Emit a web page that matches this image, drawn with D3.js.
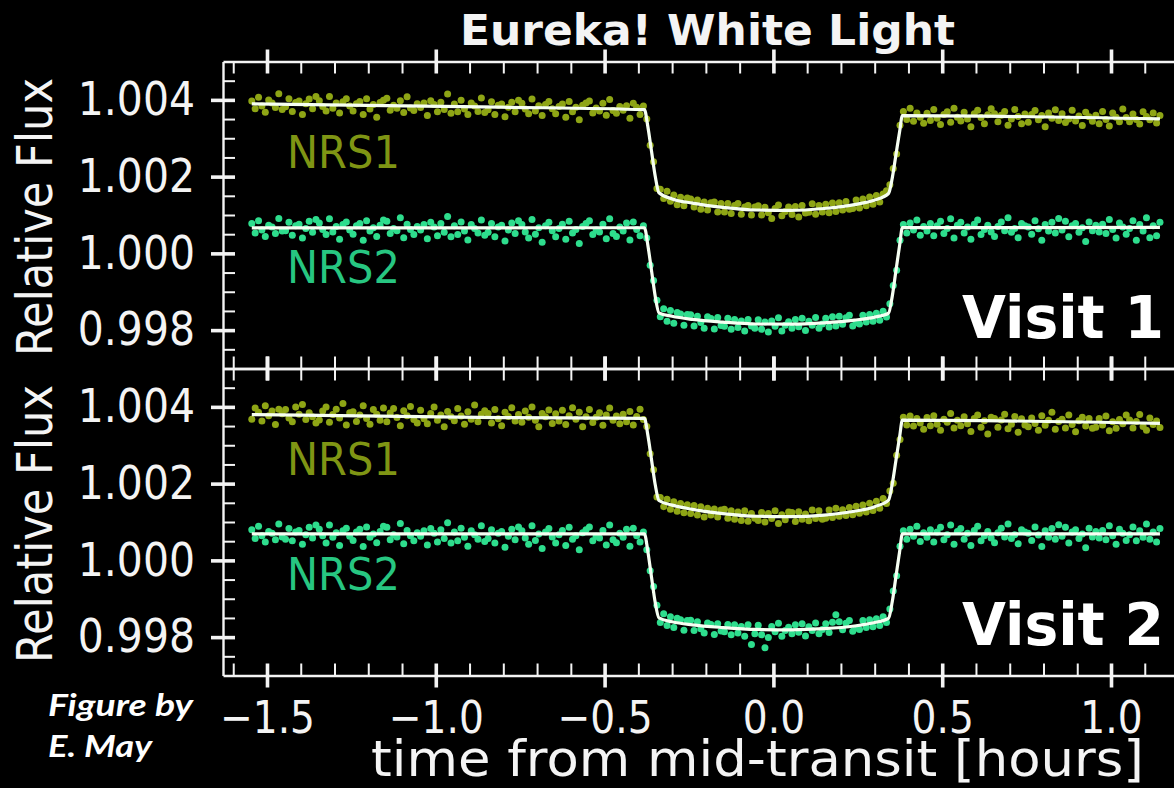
<!DOCTYPE html>
<html>
<head>
<meta charset="utf-8">
<script src="https://cdn.jsdelivr.net/npm/d3@7"></script>
<style>
  html, body { margin: 0; padding: 0; background: #000; }
  svg { display: block; }
</style>
</head>
<body>
<svg id="chart" width="1174" height="788"></svg>
<script>
// ---------------------------------------------------------------
// Eureka! white-light curves, NIRSpec NRS1 / NRS2, two visits
// ---------------------------------------------------------------

// Observation grid: hours from mid-transit, one integration every 0.01 h
const cadenceStart = -1.545;
const cadenceStep = 0.01;
const cadenceCount = 270;
const times = d3.range(cadenceCount).map(i => +(cadenceStart + i * cadenceStep).toFixed(3));

// Flux values are stored as (relative flux - 1) in units of 1e-5
const fluxUnit = 1e-5;

const visit1NRS1 = [
  397,377,407,384,368,400,392,380,416,375,
  382,403,370,393,397,362,390,402,377,409,
  398,383,371,409,378,392,366,395,403,384,
  371,390,396,362,403,376,388,355,393,399,
  404,373,386,378,398,367,408,379,372,390,
  380,392,359,398,388,369,394,375,415,365,
  389,369,399,376,362,392,384,370,405,367,
  374,395,362,386,389,356,381,394,369,399,
  391,376,364,402,371,385,359,388,396,377,
  364,383,389,355,396,369,381,348,386,392,
  397,366,379,371,391,360,401,372,365,383,
  373,385,352,391,381,362,384,350,282,239,
  169,167,143,162,136,152,127,146,124,144,
  142,121,139,115,134,113,132,134,108,130,
  108,130,104,125,130,102,121,125,100,121,
  124,100,120,106,91,117,126,98,109,121,
  101,122,95,125,105,107,129,102,125,108,
  128,106,131,109,132,113,135,115,117,139,
  118,142,124,147,128,151,134,155,163,179,
  221,259,334,370,349,378,344,366,355,339,
  365,346,375,352,336,362,369,342,378,355,
  345,368,350,330,364,373,354,338,361,377,
  364,343,360,370,334,350,375,357,338,363,
  342,362,372,348,359,330,366,352,374,346,
  364,341,350,373,345,358,333,368,356,344,
  360,338,370,349,332,366,355,343,376,354,
  343,363,349,337,369,357,348,366,340,359
];

const visit1NRS2 = [
  78,53,85,61,44,73,69,52,91,58,
  59,81,47,72,76,40,65,84,55,88,
  79,62,49,90,56,70,37,75,82,61,
  50,72,78,34,85,58,67,44,73,87,
  84,52,65,59,93,41,76,62,49,70,
  61,75,38,81,69,46,78,55,96,43,
  72,49,82,58,35,75,65,53,87,47,
  55,78,43,69,73,32,61,79,52,85,
  75,56,40,88,50,67,29,72,81,59,
  43,65,76,37,84,53,62,26,70,78,
  85,49,61,56,76,38,90,52,44,69,
  58,79,35,82,62,46,72,40,-31,-71,
  -122,-165,-144,-177,-149,-182,-154,-158,-187,-159,
  -160,-189,-164,-180,-195,-165,-170,-197,-167,-188,
  -190,-169,-198,-172,-193,-176,-202,-172,-189,-195,
  -173,-198,-179,-205,-176,-190,-168,-202,-187,-178,
  -195,-172,-191,-169,-201,-177,-187,-167,-195,-184,
  -169,-192,-165,-189,-164,-185,-168,-161,-189,-180,
  -184,-161,-179,-159,-177,-156,-174,-151,-166,-131,
  -84,-44,34,75,53,79,61,87,47,70,
  58,78,46,72,84,52,65,90,40,73,
  81,53,69,37,76,87,49,62,73,56,
  44,70,82,59,93,55,65,41,78,72,
  69,50,85,64,34,75,58,81,53,91,
  61,84,43,72,78,55,67,31,82,59,
  73,56,76,52,88,62,40,79,69,50,
  65,85,34,75,58,93,41,72,46,81
];

const visit2NRS1 = [
  368,397,386,363,403,377,389,354,394,382,
  393,371,361,400,381,406,367,385,374,358,
  366,389,400,360,380,394,371,409,353,385,
  387,362,379,403,370,355,393,381,365,397,
  361,384,396,372,351,390,377,401,367,358,
  391,369,356,383,400,365,379,348,388,374,
  364,396,376,355,387,368,405,361,381,390,
  383,358,393,369,351,386,375,398,363,380,
  360,389,373,400,365,348,383,374,392,357,
  382,363,391,354,377,398,368,386,348,374,
  393,359,373,385,352,379,397,365,376,356,
  381,361,388,353,375,394,367,349,278,236,
  165,164,140,159,133,153,128,148,124,145,
  122,143,118,140,113,136,118,134,113,131,
  133,110,129,107,126,104,129,102,122,110,
  104,125,100,122,109,129,96,119,106,126,
  125,101,127,107,121,103,131,109,129,107,
  110,131,112,136,115,132,117,138,119,141,
  123,144,126,149,130,154,136,161,148,181,
  201,274,315,373,353,376,350,370,358,342,
  372,351,377,355,339,368,360,383,345,365,
  351,374,356,336,370,379,347,364,329,373,
  370,347,366,381,343,355,375,334,369,353,
  348,371,357,339,377,352,365,386,342,362,
  368,345,379,354,335,364,373,350,370,344,
  347,370,353,376,338,361,344,367,356,379,
  366,345,362,380,349,339,371,354,363,346
];

const visit2NRS2 = [
  80,57,89,64,48,75,71,54,95,61,
  55,83,51,74,78,42,67,86,58,92,
  81,64,45,92,60,72,39,77,84,63,
  52,74,81,36,87,60,69,46,75,89,
  86,54,67,61,96,43,78,64,51,72,
  63,77,40,83,71,48,80,57,98,45,
  74,51,84,60,37,77,67,55,90,49,
  57,80,45,71,75,34,63,81,54,87,
  77,58,42,90,52,69,31,74,83,61,
  45,67,78,39,86,55,64,28,72,80,
  87,51,63,58,78,40,92,54,46,71,
  60,81,37,84,64,48,74,28,-27,-68,
  -117,-162,-139,-170,-147,-175,-151,-155,-182,-157,
  -156,-183,-160,-178,-189,-163,-167,-193,-165,-184,
  -186,-167,-194,-168,-189,-172,-198,-168,-219,-191,
  -169,-194,-228,-201,-172,-186,-164,-198,-183,-174,
  -191,-168,-187,-165,-197,-173,-183,-163,-191,-180,
  -165,-188,-161,-142,-160,-181,-164,-157,-185,-176,
  -180,-157,-175,-155,-173,-152,-170,-147,-162,-127,
  -80,-40,37,77,55,81,63,89,49,72,
  60,80,48,74,86,54,67,92,42,75,
  83,55,71,39,78,89,51,64,75,58,
  46,72,84,61,95,57,67,43,80,74,
  71,52,87,66,36,77,60,83,55,93,
  63,86,45,74,80,57,69,33,84,61,
  75,58,78,54,90,64,42,81,71,52,
  67,87,51,77,60,95,55,74,48,83
];

// Best-fit transit models, sampled at knots (same 1e-5 units)
const modelTimes = [-1.545, -0.81, -0.382, -0.372, -0.361, -0.350, -0.339, -0.30, -0.24, -0.15, -0.05,
                    0.05, 0.15, 0.24, 0.30, 0.341, 0.352, 0.363, 0.374, 0.382, 1.145];
const visit1NRS1Model = [389.5, 381, 374.5, 331, 266, 201, 158, 142, 131, 120, 113,
                         112, 117, 127, 139, 156, 196, 257, 318, 359, 350.5];
const visit1NRS2Model = [66.5, 66.7, 66.8, 22, -45, -112, -155, -164, -172, -179, -184,
                         -184.5, -181, -174, -166, -156, -112, -45, 22, 67, 67.5];
const visit2NRS1Model = [380, 372, 370, 327, 262, 197, 156, 144, 133, 122, 115,
                         114, 118, 128, 140, 157, 199, 261, 323, 365.5, 357];
const visit2NRS2Model = [69, 69, 69, 24, -44, -110, -150, -160, -168, -175, -180,
                         -181, -178, -171, -162, -151, -108, -42, 24, 69, 69];

// Axis ticks
const xMajorTicks = [-1.5, -1.0, -0.5, 0.0, 0.5, 1.0];
const xTickLabels = ["\u22121.5", "\u22121.0", "\u22120.5", "0.0", "0.5", "1.0"];
const xMinorTicks = [-1.6, -1.4, -1.3, -1.2, -1.1, -0.9, -0.8, -0.7, -0.6, -0.4, -0.3, -0.2, -0.1,
                     0.1, 0.2, 0.3, 0.4, 0.6, 0.7, 0.8, 0.9, 1.1, 1.2];
const yMajorTicks = [0.998, 1.000, 1.002, 1.004];
const yTickLabels = ["0.998", "1.000", "1.002", "1.004"];
const yMinorTicks = [0.9975, 0.9985, 0.999, 0.9995, 1.0005, 1.001, 1.0015, 1.0025, 1.003, 1.0035, 1.0045];

const xDomain = [-1.6303, 1.2636];
const yDomain = [0.997, 1.005];

const visits = [
  { name: "Visit 1", nrs1: visit1NRS1, nrs2: visit1NRS2, nrs1Model: visit1NRS1Model, nrs2Model: visit1NRS2Model },
  { name: "Visit 2", nrs1: visit2NRS1, nrs2: visit2NRS2, nrs1Model: visit2NRS1Model, nrs2Model: visit2NRS2Model }
];

// ---------------------------------------------------------------
// Layout and style
// ---------------------------------------------------------------
const W = 1174, H = 788;
const plotLeft = 223, plotRight = 1200;
const panelBoxes = [{ top: 61.5, bottom: 368.5 }, { top: 368.5, bottom: 675.5 }];
const font = "'DejaVu Sans', sans-serif";
const white = "#f4f4f4";
const nrs1Dot = "#8ea515", nrs2Dot = "#2edd8d";
const nrs1Text = "#7f9514", nrs2Text = "#27c681";
const modelColor = "#f6fff2";
const majorLen = 12, minorLen = 12;

const svg = d3.select("#chart");
svg.append("rect").attr("width", W).attr("height", H).attr("fill", "#000");

const x = d3.scaleLinear().domain(xDomain).range([plotLeft, plotRight]);

// Shrink a text element horizontally to a fraction of its natural length
function squeeze(node, factor) {
  const w = node.getComputedTextLength();
  node.setAttribute("textLength", (w * factor).toFixed(1));
  node.setAttribute("lengthAdjust", "spacingAndGlyphs");
}

visits.forEach((visit, vi) => {
  const box = panelBoxes[vi];
  const y = d3.scaleLinear().domain(yDomain).range([box.bottom, box.top]);
  const g = svg.append("g");

  const clipId = "clip" + vi;
  svg.append("defs").append("clipPath").attr("id", clipId)
    .append("rect").attr("x", plotLeft).attr("y", box.top)
    .attr("width", plotRight - plotLeft).attr("height", box.bottom - box.top);

  const plot = g.append("g").attr("clip-path", `url(#${clipId})`);

  // data points
  [[visit.nrs1, nrs1Dot], [visit.nrs2, nrs2Dot]].forEach(([series, color]) => {
    plot.append("g").selectAll("circle")
      .data(series)
      .join("circle")
      .attr("cx", (d, i) => x(times[i]))
      .attr("cy", d => y(1 + d * fluxUnit))
      .attr("r", 3.5)
      .attr("fill", color);
  });

  // models
  const line = d3.line()
    .x(d => x(d[0]))
    .y(d => y(1 + d[1] * fluxUnit))
    .curve(d3.curveMonotoneX);
  [visit.nrs1Model, visit.nrs2Model].forEach(model => {
    plot.append("path")
      .attr("d", line(modelTimes.map((t, i) => [t, model[i]])))
      .attr("fill", "none")
      .attr("stroke", modelColor)
      .attr("stroke-width", 3.2)
      .attr("stroke-linejoin", "round");
  });

  // ---- axes ----
  const styleAxis = sel => {
    sel.attr("color", white).attr("font-family", font);
    sel.selectAll(".domain").attr("stroke-width", 2.4);
  };

  // left: major in/out, minor inward
  const leftMajor = g.append("g").attr("transform", `translate(${plotLeft},0)`)
    .call(d3.axisLeft(y).tickValues(yMajorTicks)
      .tickFormat(d => yTickLabels[yMajorTicks.indexOf(d)])
      .tickSizeInner(majorLen).tickSizeOuter(0).tickPadding(16));
  styleAxis(leftMajor);
  leftMajor.selectAll(".tick line").attr("x1", majorLen).attr("stroke-width", 3.6);
  leftMajor.selectAll(".tick text").attr("font-size", 46).attr("fill", white)
    .each(function () { squeeze(this, 0.89); });

  const leftMinor = g.append("g").attr("transform", `translate(${plotLeft},0)`)
    .call(d3.axisLeft(y).tickValues(yMinorTicks).tickFormat("")
      .tickSizeInner(-minorLen).tickSizeOuter(0));
  leftMinor.attr("color", white);
  leftMinor.select(".domain").remove();
  leftMinor.selectAll(".tick line").attr("stroke-width", 2);

  // top and bottom edges
  [["top", box.top, 1], ["bottom", box.bottom, -1]].forEach(([side, ypos, inward]) => {
    const axisFn = side === "top" ? d3.axisTop : d3.axisBottom;
    const showLabels = side === "bottom" && vi === panelBoxes.length - 1;
    const major = g.append("g").attr("transform", `translate(0,${ypos})`)
      .call(axisFn(x).tickValues(xMajorTicks)
        .tickFormat(showLabels ? (d => xTickLabels[xMajorTicks.indexOf(d)]) : "")
        .tickSizeInner(majorLen).tickSizeOuter(0).tickPadding(14));
    styleAxis(major);
    major.selectAll(".tick line").attr("y1", inward * majorLen).attr("stroke-width", 3.6);
    if (showLabels) {
      major.selectAll(".tick text").attr("font-size", 45).attr("fill", white)
        .each(function () { squeeze(this, 0.87); });
    }
    const minor = g.append("g").attr("transform", `translate(0,${ypos})`)
      .call(axisFn(x).tickValues(xMinorTicks).tickFormat("")
        .tickSizeInner(-minorLen).tickSizeOuter(0));
    minor.attr("color", white);
    minor.select(".domain").remove();
    minor.selectAll(".tick line").attr("stroke-width", 2);
  });

  // y-axis title, running upward from just above the panel bottom
  g.append("text")
    .attr("transform", `translate(52,${(box.top + box.bottom) / 2 + 141}) rotate(-90)`)
    .attr("font-family", font).attr("font-size", 49)
    .attr("fill", white)
    .attr("textLength", 278).attr("lengthAdjust", "spacingAndGlyphs")
    .text("Relative Flux");

  // detector labels
  g.append("text")
    .attr("x", x(-1.441)).attr("y", y(1.00222))
    .attr("font-family", font).attr("font-size", 45)
    .attr("fill", nrs1Text)
    .attr("textLength", 113).attr("lengthAdjust", "spacingAndGlyphs")
    .text("NRS1");
  g.append("text")
    .attr("x", x(-1.441)).attr("y", y(0.99923))
    .attr("font-family", font).attr("font-size", 45)
    .attr("fill", nrs2Text)
    .attr("textLength", 113).attr("lengthAdjust", "spacingAndGlyphs")
    .text("NRS2");

  // visit label
  g.append("text")
    .attr("x", 962).attr("y", box.top + 276)
    .attr("font-family", font).attr("font-size", 58).attr("font-weight", "bold")
    .attr("fill", "#ffffff")
    .attr("textLength", 202).attr("lengthAdjust", "spacingAndGlyphs")
    .text(visit.name);
});

// figure title
svg.append("text")
  .attr("x", 460).attr("y", 45)
  .attr("font-family", font).attr("font-size", 43).attr("font-weight", "bold")
  .attr("fill", white)
  .attr("textLength", 495).attr("lengthAdjust", "spacingAndGlyphs")
  .text("Eureka! White Light");

// x-axis title
svg.append("text")
  .attr("x", 371).attr("y", 776)
  .attr("font-family", font).attr("font-size", 49)
  .attr("fill", white)
  .attr("textLength", 773).attr("lengthAdjust", "spacingAndGlyphs")
  .text("time from mid-transit [hours]");

// credit
const credit = svg.append("g")
  .attr("font-family", "Lato, 'Open Sans', sans-serif")
  .attr("font-style", "italic").attr("font-weight", 700)
  .attr("font-size", 31).attr("fill", "#ffffff");
credit.append("text").attr("x", 48).attr("y", 716)
  .attr("textLength", 145).attr("lengthAdjust", "spacingAndGlyphs")
  .text("Figure by");
credit.append("text").attr("x", 48).attr("y", 757)
  .attr("textLength", 104).attr("lengthAdjust", "spacingAndGlyphs")
  .text("E. May");
</script>
</body>
</html>
